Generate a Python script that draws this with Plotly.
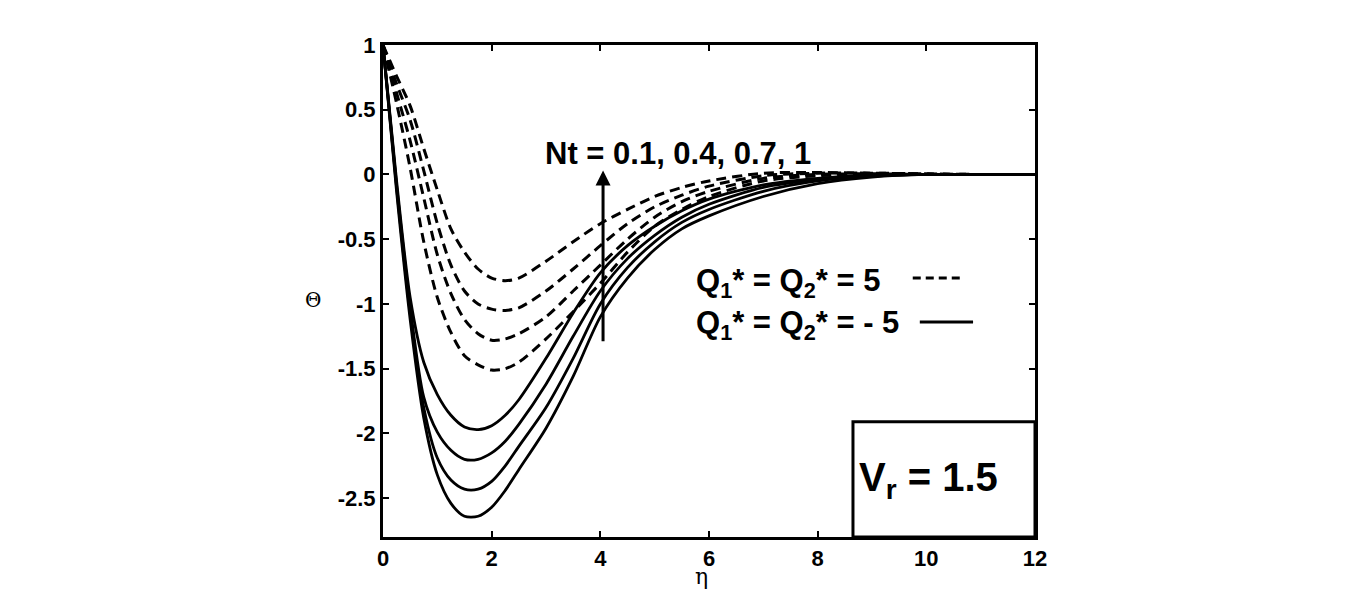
import plotly.graph_objects as go

eta = [0, 0.25, 0.5, 0.75, 1, 1.25, 1.5, 1.75, 2, 2.25, 2.5, 3, 3.5, 4, 4.5, 5, 5.5, 6, 7, 8, 9, 10, 11, 12]

# Q1* = Q2* = 5 (dashed), Nt = 1, 0.7, 0.4, 0.1 (top to bottom)
dashed = {
    "D1": [1, 0.76, 0.53, 0.2, -0.12, -0.42, -0.6, -0.73, -0.8, -0.82, -0.8, -0.67, -0.52, -0.38, -0.27, -0.17, -0.1, -0.05, 0.01, 0.015, 0.01, 0.005, 0, 0],
    "D2": [1, 0.7, 0.42, 0.03, -0.38, -0.7, -0.9, -1.0, -1.04, -1.05, -1.03, -0.9, -0.73, -0.55, -0.38, -0.25, -0.16, -0.09, -0.01, 0.01, 0.01, 0.005, 0, 0],
    "D3": [1, 0.63, 0.26, -0.18, -0.62, -0.92, -1.12, -1.23, -1.28, -1.27, -1.23, -1.1, -0.9, -0.7, -0.5, -0.33, -0.21, -0.13, -0.03, 0.0, 0.005, 0, 0, 0],
    "D4": [1, 0.55, 0.05, -0.52, -0.95, -1.22, -1.4, -1.47, -1.51, -1.5, -1.45, -1.27, -1.06, -0.84, -0.6, -0.4, -0.27, -0.17, -0.05, -0.01, 0, 0, 0, 0],
}
# Q1* = Q2* = -5 (solid)
solid = {
    "S1": [1, -0.05, -0.95, -1.45, -1.7, -1.86, -1.95, -1.97, -1.94, -1.86, -1.74, -1.42, -1.07, -0.76, -0.55, -0.4, -0.28, -0.19, -0.08, -0.03, -0.005, 0, 0, 0],
    "S2": [1, -0.08, -1.02, -1.72, -1.99, -2.13, -2.2, -2.2, -2.15, -2.06, -1.93, -1.62, -1.25, -0.9, -0.65, -0.47, -0.33, -0.23, -0.1, -0.04, -0.01, 0, 0, 0],
    "S3": [1, -0.1, -1.07, -1.8, -2.19, -2.36, -2.43, -2.43, -2.37, -2.25, -2.1, -1.8, -1.42, -1.0, -0.72, -0.52, -0.37, -0.27, -0.13, -0.05, -0.015, 0, 0, 0],
    "S4": [1, -0.13, -1.12, -1.88, -2.32, -2.54, -2.64, -2.64, -2.57, -2.44, -2.28, -1.96, -1.56, -1.1, -0.8, -0.58, -0.42, -0.32, -0.17, -0.07, -0.02, 0, 0, 0],
}

xticks = [0, 2, 4, 6, 8, 10, 12]
yticks = [-2.5, -2, -1.5, -1, -0.5, 0, 0.5, 1]
yticklabels = ["-2.5", "-2", "-1.5", "-1", "-0.5", "0", "0.5", "1"]

FONT = "Liberation Sans, Arial, sans-serif"

fig = go.Figure()
for name, vals in dashed.items():
    fig.add_trace(go.Scatter(x=eta, y=vals, mode="lines", name=name,
                             line=dict(color="black", width=3, dash="10px,6px",
                                       shape="spline", smoothing=0.8),
                             showlegend=False))
for name, vals in solid.items():
    fig.add_trace(go.Scatter(x=eta, y=vals, mode="lines", name=name,
                             line=dict(color="black", width=2.8,
                                       shape="spline", smoothing=0.8),
                             showlegend=False))

axis_common = dict(showline=True, linecolor="black", linewidth=3, mirror="ticks",
                   ticks="inside", ticklen=6, tickwidth=2, tickcolor="black",
                   showgrid=False, zeroline=False,
                   tickfont=dict(family=FONT, size=22, color="black", weight="bold"))

fig.update_xaxes(range=[0, 12], tickvals=xticks, ticktext=[str(v) for v in xticks], **axis_common)
fig.update_yaxes(range=[-2.8, 1], tickvals=yticks, ticktext=yticklabels, **axis_common)

# arrow: Nt increasing
fig.add_annotation(x=4.05, y=0.03, ax=4.05, ay=-1.3, xref="x", yref="y", axref="x", ayref="y",
                   text="", showarrow=True, arrowhead=2, arrowsize=1.0, arrowwidth=3, arrowcolor="black")
fig.add_annotation(x=5.43, y=0.16, xref="x", yref="y", text="<b>Nt = 0.1, 0.4, 0.7, 1</b>",
                   showarrow=False, font=dict(family=FONT, size=31, color="black"))

# legend
fig.add_annotation(x=5.72, y=-0.84, xref="x", yref="y", xanchor="left", yanchor="middle",
                   text="<b>Q<sub>1</sub>* = Q<sub>2</sub>* = 5</b>",
                   showarrow=False, font=dict(family=FONT, size=31, color="black"))
fig.add_annotation(x=5.72, y=-1.16, xref="x", yref="y", xanchor="left", yanchor="middle",
                   text="<b>Q<sub>1</sub>* = Q<sub>2</sub>* = - 5</b>",
                   showarrow=False, font=dict(family=FONT, size=31, color="black"))
fig.add_shape(type="line", x0=9.75, x1=10.67, y0=-0.80, y1=-0.80, xref="x", yref="y",
              line=dict(color="black", width=3, dash="8px,5px"))
fig.add_shape(type="line", x0=9.88, x1=10.86, y0=-1.14, y1=-1.14, xref="x", yref="y",
              line=dict(color="black", width=3))

# Vr box
fig.add_shape(type="rect", x0=8.65, x1=12, y0=-2.8, y1=-1.91, xref="x", yref="y",
              line=dict(color="black", width=3), fillcolor="white", layer="above")
fig.add_annotation(x=8.72, y=-2.36, xref="x", yref="y", xanchor="left", yanchor="middle",
                   text="<b>V<sub>r</sub> = 1.5</b>", showarrow=False,
                   font=dict(family=FONT, size=40, color="black"))

# axis titles
fig.add_annotation(x=-0.108, y=0.482, xref="paper", yref="paper", xanchor="center", yanchor="middle",
                   text="Θ", showarrow=False,
                   font=dict(family="DejaVu Serif, serif", size=20, color="black"))
fig.add_annotation(x=0.489, y=-0.081, xref="paper", yref="paper", xanchor="center", yanchor="middle",
                   text="η", showarrow=False,
                   font=dict(family="DejaVu Serif, serif", size=22, color="black"))

fig.update_layout(width=1366, height=604, margin=dict(l=383, r=331, t=45, b=67),
                  paper_bgcolor="white", plot_bgcolor="white", showlegend=False)

fig.write_html("out.html")
